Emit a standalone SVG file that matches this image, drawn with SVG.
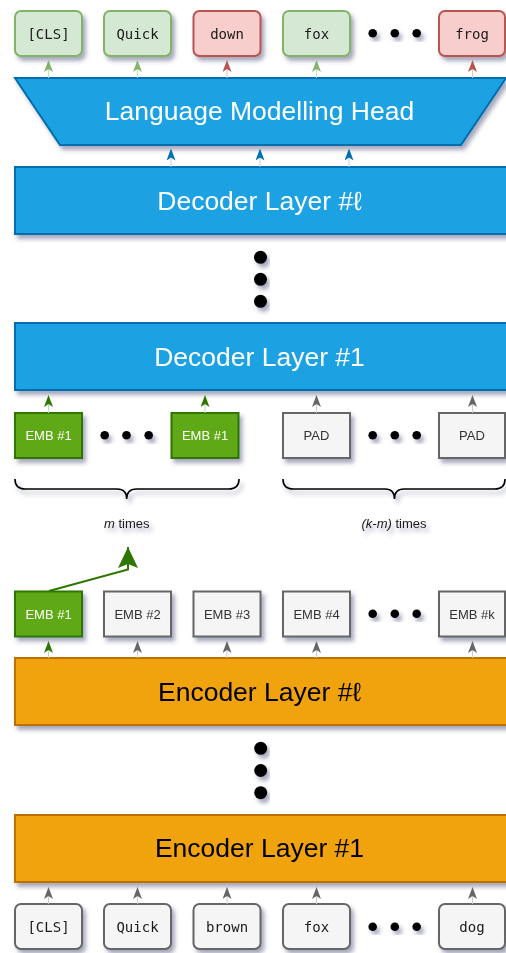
<svg xmlns="http://www.w3.org/2000/svg" width="506" height="953" viewBox="0 0 506 953">
<style>
.sh{filter:url(#shadow)}
.tok{stroke-width:2}
.g{fill:#d5e8d4;stroke:#82b366}
.r{fill:#f8cecc;stroke:#b85450}
.gr{fill:#f5f5f5;stroke:#666666}
.emb{fill:#60a917;stroke:#2d7600;stroke-width:2}
.pad{fill:#f5f5f5;stroke:#666666;stroke-width:2}
.mono{font-family:"DejaVu Sans Mono","Liberation Mono",monospace;font-size:14px;fill:#1a1a1a;text-anchor:middle}
.sans{font-family:"Liberation Sans",Arial,sans-serif;text-anchor:middle}
.big{font-size:26.5px}
.small{font-size:13px}
.blue{fill:#1ba1e2;stroke:#006eaf;stroke-width:2}
.orange{fill:#f0a30a;stroke:#bd7000;stroke-width:2}
.ln{stroke-width:1;fill:none}
.brace{fill:none;stroke:#000;stroke-width:1.6}
</style>
<defs>
<filter id="shadow" x="-20%" y="-20%" width="140%" height="160%">
<feDropShadow dx="3" dy="4" stdDeviation="2.2" flood-color="#3a3f6b" flood-opacity="0.45"/>
</filter>
<marker id="aG" markerUnits="userSpaceOnUse" markerWidth="12" markerHeight="9" refX="12" refY="4.5" orient="auto" viewBox="0 0 12 9"><path d="M0,0 L12,4.5 L0,9 L3,4.5 Z" fill="#82b366"/></marker>
<marker id="aR" markerUnits="userSpaceOnUse" markerWidth="12" markerHeight="9" refX="12" refY="4.5" orient="auto" viewBox="0 0 12 9"><path d="M0,0 L12,4.5 L0,9 L3,4.5 Z" fill="#b85450"/></marker>
<marker id="aB" markerUnits="userSpaceOnUse" markerWidth="12" markerHeight="9" refX="12" refY="4.5" orient="auto" viewBox="0 0 12 9"><path d="M0,0 L12,4.5 L0,9 L3,4.5 Z" fill="#006eaf"/></marker>
<marker id="aD" markerUnits="userSpaceOnUse" markerWidth="12" markerHeight="9" refX="12" refY="4.5" orient="auto" viewBox="0 0 12 9"><path d="M0,0 L12,4.5 L0,9 L3,4.5 Z" fill="#2d7600"/></marker>
<marker id="aK" markerUnits="userSpaceOnUse" markerWidth="12" markerHeight="9" refX="12" refY="4.5" orient="auto" viewBox="0 0 12 9"><path d="M0,0 L12,4.5 L0,9 L3,4.5 Z" fill="#666666"/></marker>
<marker id="aBig" markerUnits="userSpaceOnUse" markerWidth="21" markerHeight="20" refX="21" refY="10" orient="auto" viewBox="0 0 21 20"><path d="M0,0 L21,10 L0,20 L4,10 Z" fill="#2d7600"/></marker>
</defs>

<!-- top tokens -->
<g id="out-cls" class="sh"><rect class="tok g" x="15" y="11" width="67" height="45" rx="6"/><text class="mono" x="48.5" y="38.5">[CLS]</text></g>
<g id="out-quick" class="sh"><rect class="tok g" x="104" y="11" width="67" height="45" rx="6"/><text class="mono" x="137.5" y="38.5">Quick</text></g>
<g id="out-down" class="sh"><rect class="tok r" x="193.5" y="11" width="67" height="45" rx="6"/><text class="mono" x="227" y="38.5">down</text></g>
<g id="out-fox" class="sh"><rect class="tok g" x="283" y="11" width="67" height="45" rx="6"/><text class="mono" x="316.5" y="38.5">fox</text></g>
<g id="out-dots" class="sh"><circle cx="372.7" cy="33.3" r="4.3"/><circle cx="394.8" cy="33.3" r="4.3"/><circle cx="416.7" cy="33.3" r="4.3"/></g>
<g id="out-frog" class="sh"><rect class="tok r" x="439" y="11" width="66" height="45" rx="6"/><text class="mono" x="472" y="38.5">frog</text></g>

<!-- LM head -->
<g id="lm-head" class="sh"><path class="blue" d="M15,78 L506,78 L461,145 L60,145 Z"/><text class="sans big" x="259.5" y="119.5" fill="#ffffff">Language Modelling Head</text></g>

<!-- decoder layers -->
<g id="dec-l" class="sh"><rect class="blue" x="15" y="167" width="495" height="67"/><text class="sans big" x="259.5" y="209.5" fill="#ffffff">Decoder Layer #ℓ</text></g>
<g id="dec-dots" class="sh"><circle cx="260.5" cy="257.3" r="6.5"/><circle cx="260.5" cy="279.3" r="6.5"/><circle cx="260.5" cy="301.3" r="6.5"/></g>
<g id="dec-1" class="sh"><rect class="blue" x="15" y="323" width="495" height="67"/><text class="sans big" x="259.5" y="365.5" fill="#ffffff">Decoder Layer #1</text></g>

<!-- decoder inputs -->
<g id="dec-emb1a" class="sh"><rect class="emb" x="15" y="413" width="67" height="45"/><text class="sans small" x="48.5" y="440" fill="#ffffff">EMB #1</text></g>
<g id="dec-dots1" class="sh"><circle cx="104.7" cy="435.3" r="4.3"/><circle cx="126.5" cy="435.3" r="4.3"/><circle cx="148.7" cy="435.3" r="4.3"/></g>
<g id="dec-emb1b" class="sh"><rect class="emb" x="171.5" y="413" width="67" height="45"/><text class="sans small" x="205" y="440" fill="#ffffff">EMB #1</text></g>
<g id="dec-pad1" class="sh"><rect class="pad" x="283" y="413" width="67" height="45"/><text class="sans small" x="316.5" y="440" fill="#333333">PAD</text></g>
<g id="dec-dots2" class="sh"><circle cx="372.7" cy="435.3" r="4.3"/><circle cx="394.8" cy="435.3" r="4.3"/><circle cx="416.7" cy="435.3" r="4.3"/></g>
<g id="dec-pad2" class="sh"><rect class="pad" x="439" y="413" width="66" height="45"/><text class="sans small" x="472" y="440" fill="#333333">PAD</text></g>

<!-- braces -->
<g id="brace-m" class="sh"><path class="brace" d="M15,479 Q15,489 25,489 H117 Q126.7,489 126.7,499 Q126.7,489 136.5,489 H229 Q239,489 239,479"/><text class="sans small" x="126.7" y="527.5" fill="#1a1a1a"><tspan font-style="italic">m</tspan> times</text></g>
<g id="brace-km" class="sh"><path class="brace" d="M283,479 Q283,489 293,489 H385 Q394.5,489 394.5,499 Q394.5,489 404,489 H495 Q505,489 505,479"/><text class="sans small" x="394" y="527.5" fill="#1a1a1a"><tspan font-style="italic">(k-m)</tspan> times</text></g>

<!-- encoder outputs -->
<g id="enc-emb1" class="sh"><rect class="emb" x="15" y="591.5" width="67" height="45"/><text class="sans small" x="48.5" y="618.7" fill="#ffffff">EMB #1</text></g>
<g id="enc-emb2" class="sh"><rect class="pad" x="104" y="591.5" width="67" height="45"/><text class="sans small" x="137.5" y="618.7" fill="#333333">EMB #2</text></g>
<g id="enc-emb3" class="sh"><rect class="pad" x="193.5" y="591.5" width="67" height="45"/><text class="sans small" x="227" y="618.7" fill="#333333">EMB #3</text></g>
<g id="enc-emb4" class="sh"><rect class="pad" x="283" y="591.5" width="67" height="45"/><text class="sans small" x="316.5" y="618.7" fill="#333333">EMB #4</text></g>
<g id="enc-dots" class="sh"><circle cx="372.7" cy="613.7" r="4.3"/><circle cx="394.8" cy="613.7" r="4.3"/><circle cx="416.7" cy="613.7" r="4.3"/></g>
<g id="enc-embk" class="sh"><rect class="pad" x="439" y="591.5" width="66" height="45"/><text class="sans small" x="472" y="618.7" fill="#333333">EMB #k</text></g>

<!-- encoder layers -->
<g id="enc-l" class="sh"><rect class="orange" x="15" y="658" width="495" height="67"/><text class="sans big" x="259.5" y="700.5" fill="#000000">Encoder Layer #ℓ</text></g>
<g id="enc-vdots" class="sh"><circle cx="260.7" cy="748.3" r="6.5"/><circle cx="260.7" cy="770.5" r="6.5"/><circle cx="260.7" cy="792.7" r="6.5"/></g>
<g id="enc-1" class="sh"><rect class="orange" x="15" y="815" width="495" height="67"/><text class="sans big" x="259.5" y="857" fill="#000000">Encoder Layer #1</text></g>

<!-- input tokens -->
<g id="in-cls" class="sh"><rect class="tok gr" x="15" y="904" width="67" height="45" rx="6"/><text class="mono" x="48.5" y="931.5">[CLS]</text></g>
<g id="in-quick" class="sh"><rect class="tok gr" x="104" y="904" width="67" height="45" rx="6"/><text class="mono" x="137.5" y="931.5">Quick</text></g>
<g id="in-brown" class="sh"><rect class="tok gr" x="193.5" y="904" width="67" height="45" rx="6"/><text class="mono" x="227" y="931.5">brown</text></g>
<g id="in-fox" class="sh"><rect class="tok gr" x="283" y="904" width="67" height="45" rx="6"/><text class="mono" x="316.5" y="931.5">fox</text></g>
<g id="in-dots" class="sh"><circle cx="372.7" cy="926.7" r="4.3"/><circle cx="394.8" cy="926.7" r="4.3"/><circle cx="416.7" cy="926.7" r="4.3"/></g>
<g id="in-dog" class="sh"><rect class="tok gr" x="439" y="904" width="66" height="45" rx="6"/><text class="mono" x="472" y="931.5">dog</text></g>

<!-- connectors -->
<g id="connectors">
<path class="ln" stroke="#c8d8c4" d="M48.5,78 V60" marker-end="url(#aG)"/>
<path class="ln" stroke="#c8d8c4" d="M137.5,78 V60" marker-end="url(#aG)"/>
<path class="ln" stroke="#e0c8c6" d="M227,78 V60" marker-end="url(#aR)"/>
<path class="ln" stroke="#c8d8c4" d="M316.5,78 V60" marker-end="url(#aG)"/>
<path class="ln" stroke="#e0c8c6" d="M472.5,78 V60" marker-end="url(#aR)"/>

<path class="ln" stroke="#b8cfe0" d="M171,167 V148.5" marker-end="url(#aB)"/>
<path class="ln" stroke="#b8cfe0" d="M260,167 V148.5" marker-end="url(#aB)"/>
<path class="ln" stroke="#b8cfe0" d="M349,167 V148.5" marker-end="url(#aB)"/>

<path class="ln" stroke="#c4d4bc" d="M48.5,413 V395" marker-end="url(#aD)"/>
<path class="ln" stroke="#c4d4bc" d="M205,413 V395" marker-end="url(#aD)"/>
<path class="ln" stroke="#cccccc" d="M316.5,413 V395" marker-end="url(#aK)"/>
<path class="ln" stroke="#cccccc" d="M472.5,413 V395" marker-end="url(#aK)"/>

<path fill="none" stroke="#2d7600" stroke-width="2" d="M49,591 L128,569.5 V547" marker-end="url(#aBig)"/>

<path class="ln" stroke="#c4d4bc" d="M48.5,658 V641" marker-end="url(#aD)"/>
<path class="ln" stroke="#cccccc" d="M137.5,658 V641" marker-end="url(#aK)"/>
<path class="ln" stroke="#cccccc" d="M227,658 V641" marker-end="url(#aK)"/>
<path class="ln" stroke="#cccccc" d="M316.5,658 V641" marker-end="url(#aK)"/>
<path class="ln" stroke="#cccccc" d="M472.5,658 V641" marker-end="url(#aK)"/>

<path class="ln" stroke="#cccccc" d="M48.5,904 V887" marker-end="url(#aK)"/>
<path class="ln" stroke="#cccccc" d="M137.5,904 V887" marker-end="url(#aK)"/>
<path class="ln" stroke="#cccccc" d="M227,904 V887" marker-end="url(#aK)"/>
<path class="ln" stroke="#cccccc" d="M316.5,904 V887" marker-end="url(#aK)"/>
<path class="ln" stroke="#cccccc" d="M472.5,904 V887" marker-end="url(#aK)"/>
</g>
</svg>
